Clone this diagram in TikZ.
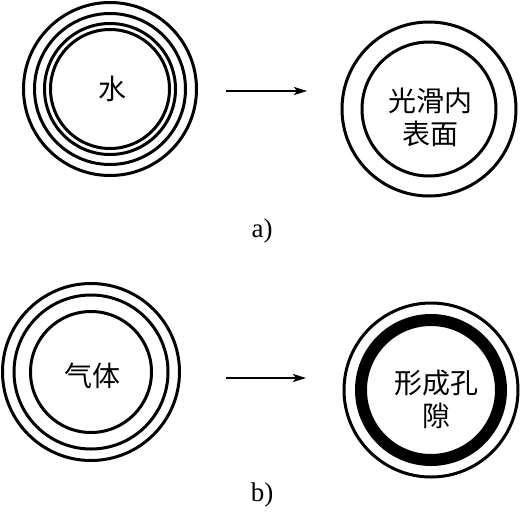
\documentclass[tikz,border=0pt]{standalone}
\usepackage{fontspec}
\setmainfont{Liberation Serif}
\newfontfamily\cjk{Noto Sans CJK SC}[Scale=1]
\usetikzlibrary{arrows.meta}
\tikzset{
  ring/.style={draw=black, line width=3pt},
  thickring/.style={draw=black, line width=12pt},
  cjktext/.style={font=\cjk\fontsize{28}{33}\selectfont, align=center, inner sep=0pt},
  lbl/.style={font=\fontsize{27}{30}\selectfont, inner sep=0pt},
  flow/.style={line width=2pt, -{Stealth[length=13pt,width=8pt,inset=3pt]}}
}
\begin{document}
\begin{tikzpicture}[x=1pt,y=-1pt]
\useasboundingbox (0,0) rectangle (525,512);
% centres
\coordinate (A) at (110,89);
\coordinate (B) at (429,109);
\coordinate (C) at (91,372);
\coordinate (D) at (431,390);
% a) left: four rings
\draw[ring] (A) circle[radius=86.5];
\draw[ring] (A) circle[radius=75.5];
\draw[ring] (A) circle[radius=65.5];
\draw[ring] (A) circle[radius=59.5];
\node[cjktext] (tA) at (112,89) {水};
% a) right
\draw[ring] (B) circle[radius=87];
\draw[ring] (B) circle[radius=67];
\node[cjktext] (tB) at (430,117) {光滑内\\表面};
% b) left
\draw[ring] (C) circle[radius=88.5];
\draw[ring] (C) circle[radius=77];
\draw[ring] (C) circle[radius=60.5];
\node[cjktext] (tC) at (92,376) {气体};
% b) right
\draw[ring] (D) circle[radius=87];
\draw[thickring] (D) circle[radius=70];
\node[cjktext] (tD) at (436,399) {形成孔\\隙};
% arrows
\coordinate (a1) at (226,91);
\coordinate (a2) at (307,91);
\coordinate (b1) at (226,378);
\coordinate (b2) at (306,378);
\draw[flow] (a1) -- (a2);
\draw[flow] (b1) -- (b2);
% labels
\node[lbl] (la) at (262,231) {a)};
\node[lbl] (lb) at (262,495) {b)};
\end{tikzpicture}
\end{document}
